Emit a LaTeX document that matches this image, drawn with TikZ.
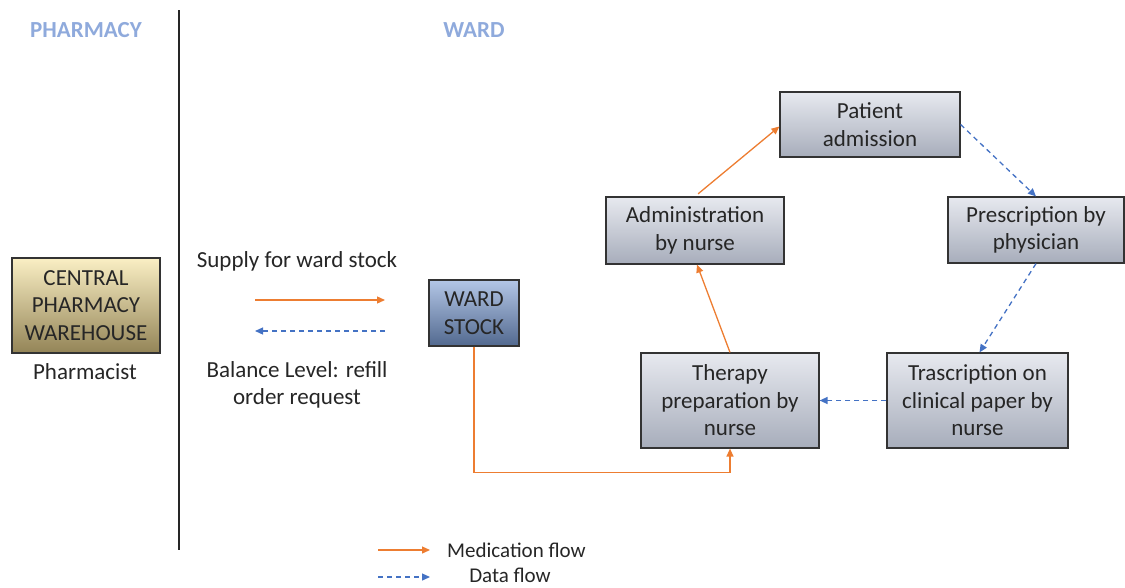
\documentclass[tikz,border=0pt]{standalone}
\usepackage{fontspec}
\setmainfont{Carlito}
\usetikzlibrary{arrows.meta,calc}
\definecolor{medorange}{HTML}{ED7D31}
\definecolor{datablue}{HTML}{4472C4}
\definecolor{headblue}{HTML}{8FAADC}
\definecolor{inktext}{HTML}{262626}
\definecolor{boxtop}{HTML}{E7E9EF}
\definecolor{boxbot}{HTML}{A7ADBB}
\definecolor{creamtop}{HTML}{FAEFC4}
\definecolor{olivebot}{HTML}{938457}
\definecolor{stocktop}{HTML}{B3C6E6}
\definecolor{stockbot}{HTML}{52698F}
\tikzset{
  x=1pt, y=-1pt,
  every node/.style={text=inktext, font=\fontsize{23}{27.5}\selectfont, align=center, inner sep=0pt},
  procbox/.style={draw=black!80, line width=1.2pt, shading=axis,
    top color=boxtop, bottom color=boxbot},
  medflow/.style={draw=medorange, line width=1.3pt, -{Triangle[length=8pt,width=7pt]}},
  dataflow/.style={draw=datablue, line width=1.3pt, dash pattern=on 5pt off 4pt,
    -{Triangle[length=8pt,width=7pt]}},
  header/.style={text=headblue, font=\fontsize{23}{25}\selectfont\bfseries},
  legendtext/.style={font=\fontsize{21}{25}\selectfont}
}
\begin{document}
\begin{tikzpicture}
\useasboundingbox (0,0) rectangle (1125,587);

% column headers and divider
\node[header] (hph) at (86,30) {PHARMACY};
\node[header] (hwd) at (474,30) {WARD};
\draw[line width=1.2pt, black!85] (179,10) -- (179,550);

% pharmacy side
\node[draw=black!80, line width=1.2pt, shading=axis, top color=creamtop, bottom color=olivebot,
  minimum width=148pt, minimum height=95pt] (cpw) at (86,305.5) {CENTRAL\\PHARMACY\\WAREHOUSE};
\node (pharm) at (85,372) {Pharmacist};

% supply / refill exchange
\node (supply) at (297,261) {Supply for ward stock};
\node (balance) at (297,385) {Balance Level: refill\\order request};
\coordinate (s1) at (255,300);
\coordinate (s2) at (385,300);
\coordinate (d1) at (385,331);
\coordinate (d2) at (255,331);
\draw[medflow] (s1) -- (s2);
\draw[dataflow] (d1) -- (d2);

% ward stock
\node[draw=black!80, line width=1.2pt, shading=axis, top color=stocktop, bottom color=stockbot,
  minimum width=90pt, minimum height=66pt] (ws) at (474,313) {WARD\\STOCK};

% ward process
\node[procbox, minimum width=180pt, minimum height=65pt] (pa) at (870,124.5) {Patient\\admission};
\node[procbox, minimum width=178pt, minimum height=67pt] (adm) at (695,230.5) {Administration\\by nurse};
\node[procbox, minimum width=176pt, minimum height=66pt] (pres) at (1036,230) {Prescription by\\physician};
\node[procbox, minimum width=178pt, minimum height=95pt] (ther) at (730,400.5) {Therapy\\preparation by\\nurse};
\node[procbox, minimum width=181pt, minimum height=95pt] (tras) at (977.5,400.5) {Trascription on\\clinical paper by\\nurse};

% connectors
\draw[medflow] (ws.south) -- ++(0,126) -| (ther.south);
\draw[medflow] (ther.north) -- ($(adm.south)+(2,0)$);
\draw[medflow, shorten <=4pt] (adm.north) -- ($(pa.west)+(0,2)$);
\draw[dataflow] (pa.east) -- (pres.north);
\draw[dataflow] (pres.south) -- ($(tras.north)+(2,0)$);
\draw[dataflow] (tras.west) -- (ther.east);

% legend
\coordinate (lm1) at (378,550);
\coordinate (lm2) at (430,550);
\coordinate (ld1) at (378,577);
\coordinate (ld2) at (430,577);
\draw[medflow] (lm1) -- (lm2);
\draw[dataflow] (ld1) -- (ld2);
\node[legendtext, anchor=west] (lmed) at (447,550) {Medication flow};
\node[legendtext] (ldat) at (510,575) {Data flow};
\end{tikzpicture}
\end{document}
